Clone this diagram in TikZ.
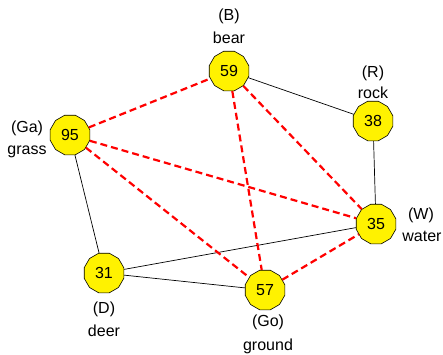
\documentclass[tikz,border=0pt]{standalone}
\usepackage{fontspec}
\setmainfont{Liberation Sans}
\usetikzlibrary{shapes.geometric}
\tikzset{animal/.style={draw, line width=0.6pt, regular polygon, regular polygon sides=12, minimum size=41pt, inner sep=0pt, fill=yellow, font=\fontsize{16}{18}\selectfont}}
\tikzset{lbl/.style={inner sep=0pt, font=\fontsize{16}{18}\selectfont}}
\tikzset{eats/.style={draw=black, line width=0.7pt}}
\tikzset{rival/.style={draw=red, line width=2.2pt, dash pattern=on 7pt off 4pt}}

\begin{document}
\begin{tikzpicture}[x=1pt,y=-1pt]
\useasboundingbox (0,0) rectangle (443,354);

\node[animal] (B) at (229, 71) {59};
\node[animal] (R) at (373, 121) {38};
\node[animal] (Ga) at (70, 135) {95};
\node[animal] (W) at (376, 224) {35};
\node[animal] (D) at (104, 273) {31};
\node[animal] (Go) at (265, 290) {57};

\node[lbl] (Bname) at (229, 16) {(B)};
\node[lbl] (Bword) at (229, 38) {bear};
\node[lbl] (Rname) at (373, 73) {(R)};
\node[lbl] (Rword) at (373, 93) {rock};
\node[lbl] (Ganame) at (27, 128) {(Ga)};
\node[lbl] (Gaword) at (27, 152) {grass};
\node[lbl] (Wname) at (421, 215) {(W)};
\node[lbl] (Wword) at (422, 236) {water};
\node[lbl] (Dname) at (104, 309) {(D)};
\node[lbl] (Dword) at (104, 331) {deer};
\node[lbl] (Goname) at (268, 322) {(Go)};
\node[lbl] (Goword) at (268, 346) {ground};

\draw[eats] (B) -- (R);
\draw[eats] (R) -- (W);
\draw[eats] (Ga) -- (D);
\draw[eats] (D) -- (W);
\draw[eats] (D) -- (Go);

\draw[rival] (Ga) -- (B);
\draw[rival] (Ga) -- (W);
\draw[rival] (Ga) -- (Go);
\draw[rival] (B) -- (Go);
\draw[rival] (B) -- (W);
\draw[rival] (Go) -- (W);

\end{tikzpicture}
\end{document}
